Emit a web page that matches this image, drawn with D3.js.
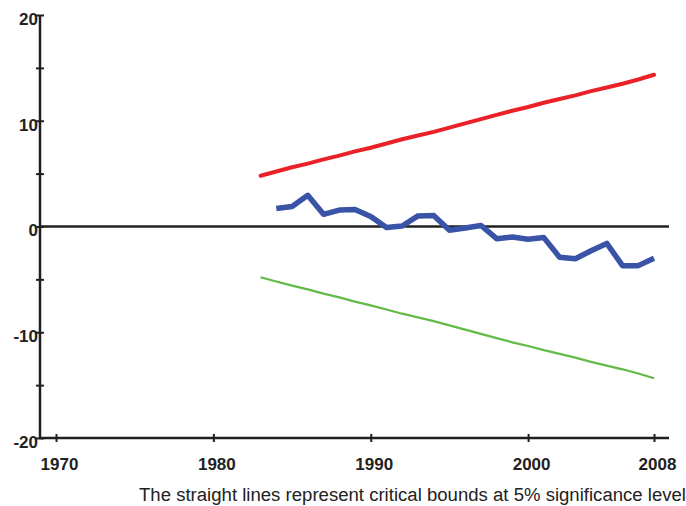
<!DOCTYPE html>
<html>
<head>
<meta charset="utf-8">
<script src="https://cdn.jsdelivr.net/npm/d3@7"></script>
<style>
  body { margin: 0; background: #fff; }
  svg { display: block; }
</style>
</head>
<body>
<div id="chart"></div>
<script>
// CUSUM statistic, 1984-2008
let cusumYears = [1984,1985,1986,1987,1988,1989,1990,1991,1992,1993,1994,1995,1996,
                  1997,1998,1999,2000,2001,2002,2003,2004,2005,2006,2007,2008];
let cusumValues = [1.7,1.9,2.95,1.15,1.55,1.6,0.95,-0.1,0.05,1.0,1.05,-0.35,-0.15,
                   0.1,-1.15,-1.0,-1.2,-1.05,-2.9,-3.05,-2.3,-1.6,-3.7,-3.7,-3.0];

// 5% critical bounds, 1983-2008
let boundYears = [1983,1984,1985,1986,1987,1988,1989,1990,1991,1992,1993,1994,1995,
                  1996,1997,1998,1999,2000,2001,2002,2003,2004,2005,2006,2007,2008];
let upperBound = [4.8,5.2,5.6,5.95,6.35,6.7,7.1,7.45,7.85,8.25,8.6,8.95,9.35,
                  9.75,10.15,10.55,10.95,11.3,11.7,12.05,12.4,12.8,13.15,13.5,13.9,14.35];
let lowerBound = [-4.8,-5.2,-5.6,-5.95,-6.35,-6.7,-7.1,-7.45,-7.85,-8.25,-8.6,-8.95,-9.35,
                  -9.75,-10.15,-10.55,-10.95,-11.3,-11.7,-12.05,-12.4,-12.8,-13.15,-13.5,-13.9,-14.35];

let xTicks = [1970,1980,1990,2000,2008];
let yTicks = [-20,-15,-10,-5,0,5,10,15,20];
let yLabels = [-20,-10,0,10,20];
let caption = "The straight lines represent critical bounds at 5% significance level";

let width = 686, height = 506;
let axisColor = "#231f20";

let svg = d3.select("#chart").append("svg")
  .attr("width", width)
  .attr("height", height);

let x = d3.scaleLinear().domain([1970, 2008]).range([56, 654]);
let y = d3.scaleLinear().domain([-20, 20]).range([438, 15]);

// y axis
let yAxis = svg.append("g")
  .attr("transform", "translate(40,0)")
  .call(d3.axisLeft(y).tickValues(yTicks)
    .tickFormat(d => yLabels.includes(d) ? d : "")
    .tickSizeOuter(0));
yAxis.select(".domain").attr("stroke", axisColor).attr("stroke-width", 2.5)
  .attr("d", "M0," + y(20) + "V" + y(-20));
yAxis.selectAll(".tick line").attr("x1", -4).attr("x2", 4)
  .attr("stroke", axisColor).attr("stroke-width", 2);
yAxis.selectAll(".tick text")
  .attr("x", -2).attr("dy", "0.55em")
  .attr("font-family", "Liberation Sans, Arial, sans-serif")
  .attr("font-weight", "bold").attr("font-size", 17).attr("fill", "#222");

// x axis at y = -20
let xAxis = svg.append("g")
  .attr("transform", "translate(0," + y(-20) + ")")
  .call(d3.axisBottom(x).tickValues(xTicks).tickFormat(d3.format("d")).tickSizeOuter(0));
xAxis.select(".domain").attr("stroke", axisColor).attr("stroke-width", 2.5)
  .attr("d", "M40,0H669");
xAxis.selectAll(".tick line").attr("y1", -4).attr("y2", 4)
  .attr("stroke", axisColor).attr("stroke-width", 2);
xAxis.selectAll(".tick text")
  .attr("x", 3).attr("y", 32).attr("dy", 0)
  .attr("font-family", "Liberation Sans, Arial, sans-serif")
  .attr("font-weight", "bold").attr("font-size", 17).attr("fill", "#222");

// zero line
svg.append("line")
  .attr("x1", 40).attr("x2", 669)
  .attr("y1", y(0)).attr("y2", y(0))
  .attr("stroke", axisColor).attr("stroke-width", 2.5);

let line = d3.line().x(d => x(d[0])).y(d => y(d[1]));

svg.append("path")
  .datum(d3.zip(boundYears, upperBound))
  .attr("d", line)
  .attr("fill", "none").attr("stroke", "#ea2127").attr("stroke-width", 4)
  .attr("stroke-linecap", "round").attr("stroke-linejoin", "round");

svg.append("path")
  .datum(d3.zip(boundYears, lowerBound))
  .attr("d", line)
  .attr("fill", "none").attr("stroke", "#62bb47").attr("stroke-width", 2.3)
  .attr("stroke-linejoin", "round");

svg.append("path")
  .datum(d3.zip(cusumYears, cusumValues))
  .attr("d", line)
  .attr("fill", "none").attr("stroke", "#3953a6").attr("stroke-width", 5.5)
  .attr("stroke-linejoin", "round");

// caption
svg.append("text")
  .attr("x", 139).attr("y", 501)
  .attr("textLength", 547).attr("lengthAdjust", "spacingAndGlyphs")
  .attr("font-family", "Liberation Sans, Arial, sans-serif")
  .attr("font-size", 18).attr("fill", "#222")
  .text(caption);
</script>
</body>
</html>
